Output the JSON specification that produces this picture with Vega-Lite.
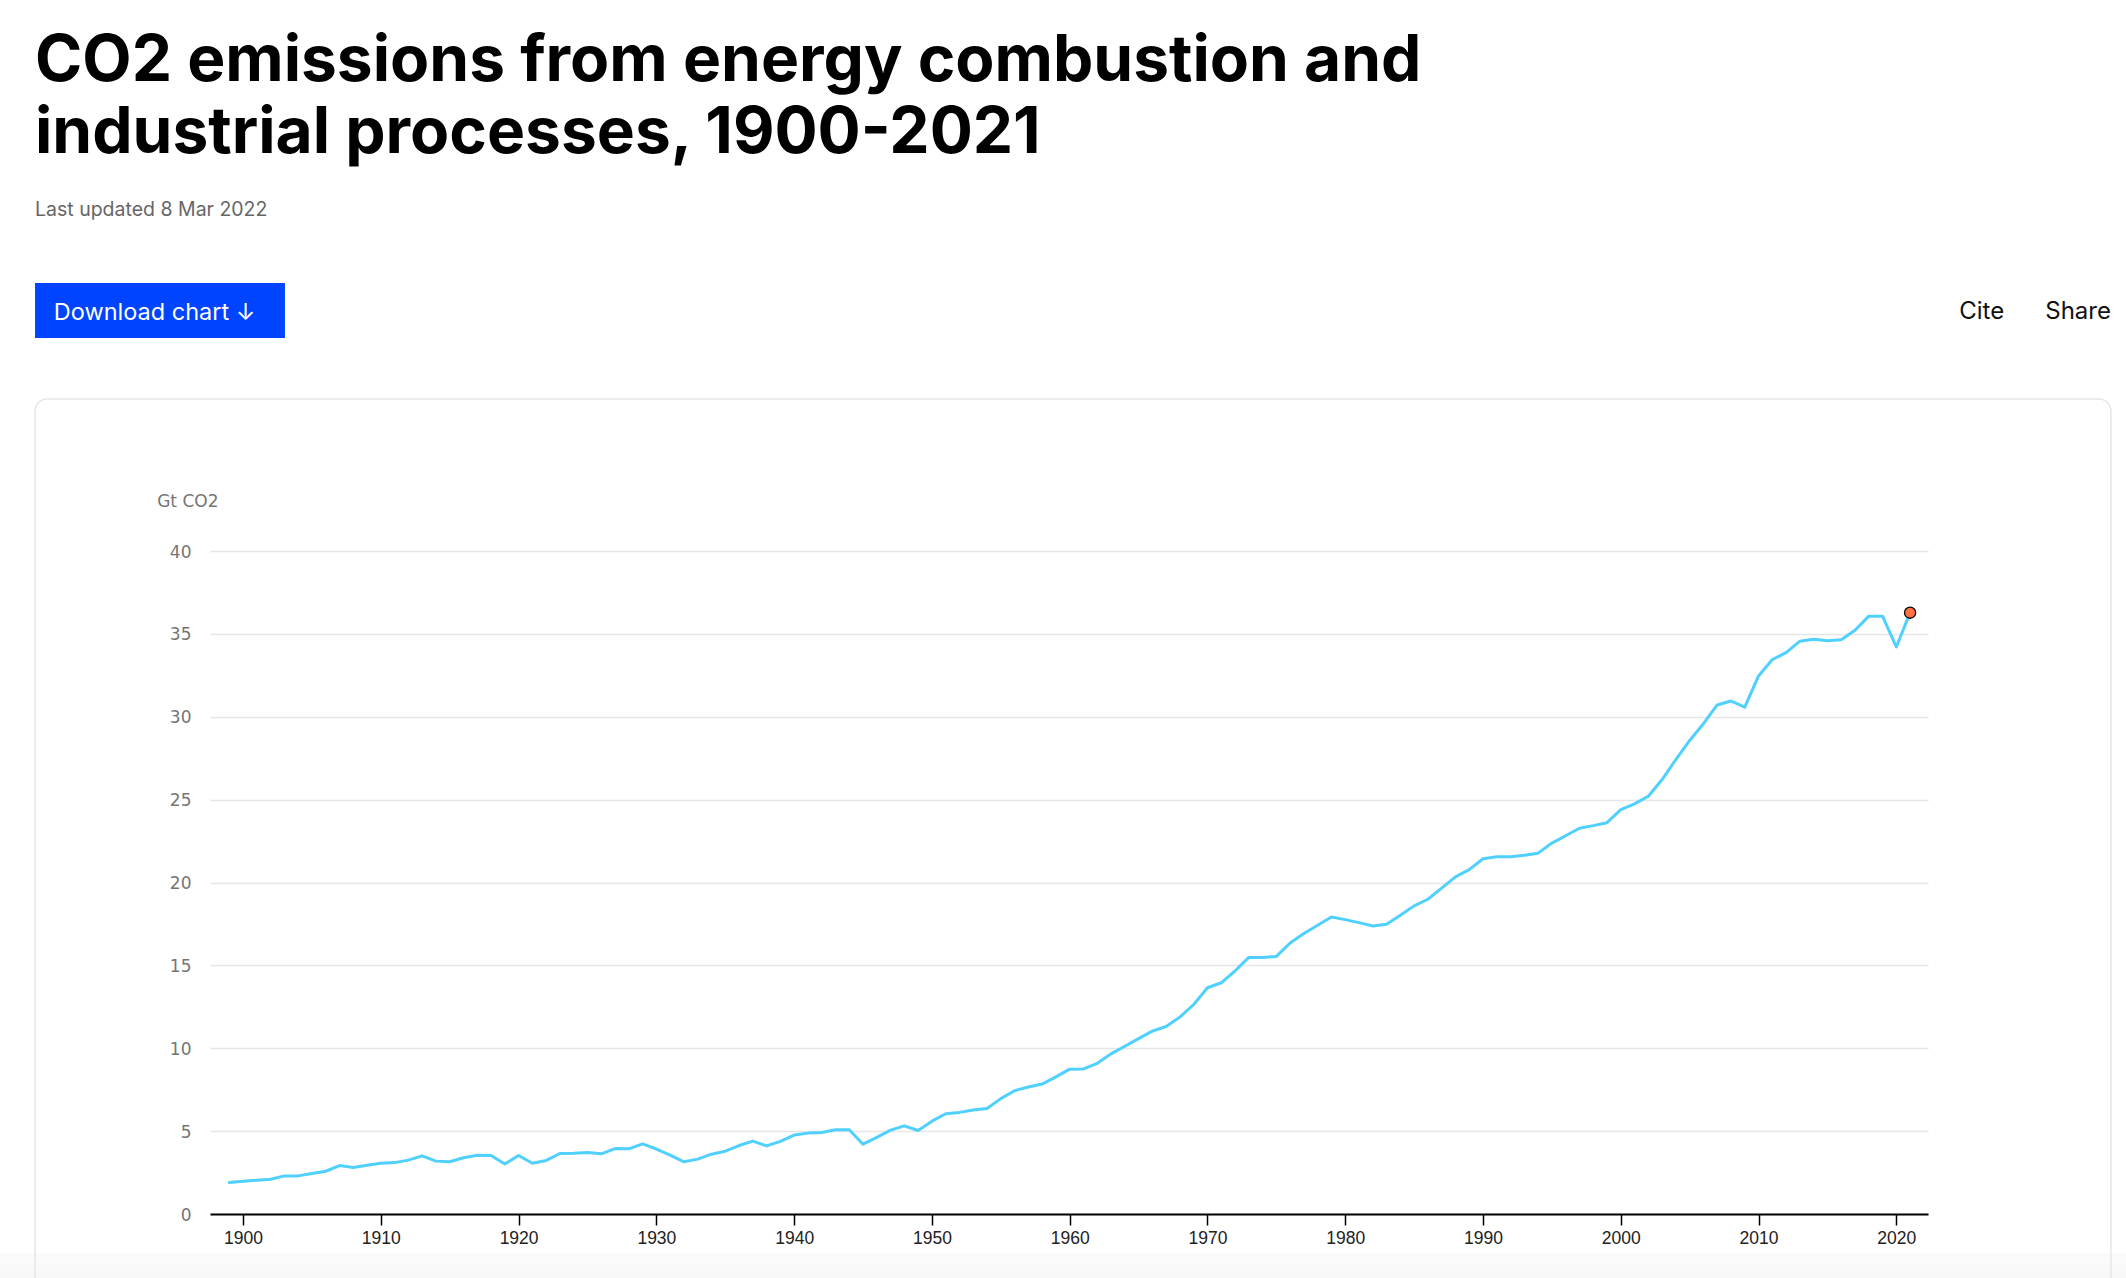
{
  "$schema": "https://vega.github.io/schema/vega-lite/v6.json",
  "width": 1718,
  "height": 663,
  "autosize": {"type": "none"},
  "padding": {"left": 210, "top": 551, "right": 198, "bottom": 64},
  "background": "#ffffff",
  "config": {
    "view": {"stroke": null},
    "axisX": {
      "grid": false, "domain": true, "domainColor": "#000000", "domainWidth": 2,
      "ticks": true, "tickColor": "#000000", "tickWidth": 1.5, "tickSize": 11,
      "labelFont": "Liberation Sans", "labelFontSize": 17.5, "labelColor": "#222222", "labelPadding": 4,
      "labelBaseline": "top", "labelFlush": false
    },
    "axisY": {
      "titleAngle": 0, "titleAlign": "left", "titleBaseline": "alphabetic",
      "titleX": -53.3, "titleY": -45, "titleFont": "DejaVu Sans", "titleFontSize": 17, "titleFontWeight": "normal", "titleColor": "#757575",
      "grid": true, "gridColor": "#e6e6e6", "gridWidth": 1.3, "domain": false, "ticks": false,
      "labelFont": "DejaVu Sans", "labelFontSize": 17, "labelColor": "#757575", "labelPadding": 19,
      "labelBaseline": "middle", "labelOffset": 1, "labelFlush": false
    }
  },
  "title": {
    "text": ["CO2 emissions from energy combustion and", "industrial processes, 1900-2021"],
    "subtitle": "Last updated 8 Mar 2022",
    "anchor": "start",
    "frame": "group",
    "orient": "top",
    "dx": -175,
    "offset": 63,
    "font": "Inter",
    "fontSize": 64,
    "fontWeight": 700,
    "color": "#000000",
    "lineHeight": 72.7,
    "subtitleFont": "Inter",
    "subtitleFontSize": 19.5,
    "subtitleColor": "#666666",
    "subtitlePadding": 35
  },
  "datasets": {
    "emissions": [
      {"year": 1899, "value": 1.90}, {"year": 1900, "value": 1.98}, {"year": 1901, "value": 2.04}, {"year": 1902, "value": 2.10},
      {"year": 1903, "value": 2.30}, {"year": 1904, "value": 2.30}, {"year": 1905, "value": 2.44}, {"year": 1906, "value": 2.58},
      {"year": 1907, "value": 2.92}, {"year": 1908, "value": 2.80}, {"year": 1909, "value": 2.94}, {"year": 1910, "value": 3.06},
      {"year": 1911, "value": 3.10}, {"year": 1912, "value": 3.25}, {"year": 1913, "value": 3.51}, {"year": 1914, "value": 3.19},
      {"year": 1915, "value": 3.15}, {"year": 1916, "value": 3.39}, {"year": 1917, "value": 3.55}, {"year": 1918, "value": 3.53},
      {"year": 1919, "value": 3.02}, {"year": 1920, "value": 3.53}, {"year": 1921, "value": 3.06}, {"year": 1922, "value": 3.23},
      {"year": 1923, "value": 3.65}, {"year": 1924, "value": 3.67}, {"year": 1925, "value": 3.71}, {"year": 1926, "value": 3.63},
      {"year": 1927, "value": 3.95}, {"year": 1928, "value": 3.93}, {"year": 1929, "value": 4.23}, {"year": 1930, "value": 3.92},
      {"year": 1931, "value": 3.55}, {"year": 1932, "value": 3.15}, {"year": 1933, "value": 3.31}, {"year": 1934, "value": 3.61},
      {"year": 1935, "value": 3.79}, {"year": 1936, "value": 4.13}, {"year": 1937, "value": 4.40}, {"year": 1938, "value": 4.11},
      {"year": 1939, "value": 4.38}, {"year": 1940, "value": 4.76}, {"year": 1941, "value": 4.88}, {"year": 1942, "value": 4.92},
      {"year": 1943, "value": 5.08}, {"year": 1944, "value": 5.08}, {"year": 1945, "value": 4.21}, {"year": 1946, "value": 4.62},
      {"year": 1947, "value": 5.06}, {"year": 1948, "value": 5.32}, {"year": 1949, "value": 5.04}, {"year": 1950, "value": 5.60},
      {"year": 1951, "value": 6.05}, {"year": 1952, "value": 6.13}, {"year": 1953, "value": 6.27}, {"year": 1954, "value": 6.37},
      {"year": 1955, "value": 6.96}, {"year": 1956, "value": 7.44}, {"year": 1957, "value": 7.66}, {"year": 1958, "value": 7.84},
      {"year": 1959, "value": 8.27}, {"year": 1960, "value": 8.74}, {"year": 1961, "value": 8.75}, {"year": 1962, "value": 9.09},
      {"year": 1963, "value": 9.66}, {"year": 1964, "value": 10.12}, {"year": 1965, "value": 10.58}, {"year": 1966, "value": 11.03},
      {"year": 1967, "value": 11.31}, {"year": 1968, "value": 11.88}, {"year": 1969, "value": 12.64}, {"year": 1970, "value": 13.65},
      {"year": 1971, "value": 13.95}, {"year": 1972, "value": 14.66}, {"year": 1973, "value": 15.48}, {"year": 1974, "value": 15.48},
      {"year": 1975, "value": 15.54}, {"year": 1976, "value": 16.35}, {"year": 1977, "value": 16.92}, {"year": 1978, "value": 17.42},
      {"year": 1979, "value": 17.92}, {"year": 1980, "value": 17.76}, {"year": 1981, "value": 17.58}, {"year": 1982, "value": 17.38},
      {"year": 1983, "value": 17.48}, {"year": 1984, "value": 18.02}, {"year": 1985, "value": 18.59}, {"year": 1986, "value": 18.99},
      {"year": 1987, "value": 19.66}, {"year": 1988, "value": 20.34}, {"year": 1989, "value": 20.78}, {"year": 1990, "value": 21.43},
      {"year": 1991, "value": 21.56}, {"year": 1992, "value": 21.55}, {"year": 1993, "value": 21.65}, {"year": 1994, "value": 21.77},
      {"year": 1995, "value": 22.38}, {"year": 1996, "value": 22.82}, {"year": 1997, "value": 23.27}, {"year": 1998, "value": 23.43},
      {"year": 1999, "value": 23.61}, {"year": 2000, "value": 24.40}, {"year": 2001, "value": 24.74}, {"year": 2002, "value": 25.20},
      {"year": 2003, "value": 26.21}, {"year": 2004, "value": 27.42}, {"year": 2005, "value": 28.57}, {"year": 2006, "value": 29.58},
      {"year": 2007, "value": 30.71}, {"year": 2008, "value": 30.95}, {"year": 2009, "value": 30.58}, {"year": 2010, "value": 32.46},
      {"year": 2011, "value": 33.45}, {"year": 2012, "value": 33.87}, {"year": 2013, "value": 34.56}, {"year": 2014, "value": 34.68},
      {"year": 2015, "value": 34.58}, {"year": 2016, "value": 34.64}, {"year": 2017, "value": 35.22}, {"year": 2018, "value": 36.07},
      {"year": 2019, "value": 36.07}, {"year": 2020, "value": 34.21}, {"year": 2021, "value": 36.28}
    ],
    "one": [{"k": 1}],
    "button": [{"label": "Download chart  \u2193"}],
    "cite": [{"label": "Cite"}],
    "share": [{"label": "Share"}]
  },
  "layer": [
    {
      "data": {"name": "one"},
      "mark": {"type": "rect", "fill": {"gradient": "linear", "x1": 0, "y1": 0, "x2": 0, "y2": 1, "stops": [{"offset": 0, "color": "#fbfbfb"}, {"offset": 1, "color": "#f3f3f3"}]}, "clip": false},
      "encoding": {
        "x": {"datum": 1882.36, "type": "quantitative", "scale": {"domain": [1897.6, 2022.3], "nice": false, "zero": false}},
        "x2": {"datum": 2036.67},
        "y": {"datum": -2.35, "type": "quantitative", "scale": {"domain": [0, 40], "nice": false, "zero": false}},
        "y2": {"datum": -5.3}
      }
    },
    {
      "data": {"name": "one"},
      "mark": {"type": "rect", "fill": null, "stroke": "#e6e6e6", "strokeWidth": 1.5, "cornerRadius": 12, "clip": false},
      "encoding": {
        "x": {"datum": 1884.9, "type": "quantitative", "scale": {"domain": [1897.6, 2022.3], "nice": false, "zero": false}},
        "x2": {"datum": 2035.58},
        "y": {"datum": 49.17, "type": "quantitative", "scale": {"domain": [0, 40], "nice": false, "zero": false}},
        "y2": {"datum": -6}
      }
    },
    {
      "data": {"name": "one"},
      "mark": {"type": "rect", "fill": "#0044ff", "clip": false},
      "encoding": {
        "x": {"datum": 1884.9, "type": "quantitative", "scale": {"domain": [1897.6, 2022.3], "nice": false, "zero": false}},
        "x2": {"datum": 1903.04},
        "y": {"datum": 56.17, "type": "quantitative", "scale": {"domain": [0, 40], "nice": false, "zero": false}},
        "y2": {"datum": 52.85}
      }
    },
    {
      "data": {"name": "button"},
      "mark": {"type": "text", "font": "Inter", "fontSize": 23.5, "color": "#ffffff", "align": "left", "baseline": "alphabetic", "clip": false},
      "encoding": {
        "text": {"field": "label"},
        "x": {"datum": 1886.26, "type": "quantitative", "scale": {"domain": [1897.6, 2022.3], "nice": false, "zero": false}},
        "y": {"datum": 53.94, "type": "quantitative", "scale": {"domain": [0, 40], "nice": false, "zero": false}}
      }
    },
    {
      "data": {"name": "cite"},
      "mark": {"type": "text", "font": "Inter", "fontSize": 24, "color": "#111111", "align": "left", "baseline": "alphabetic", "clip": false},
      "encoding": {
        "text": {"field": "label"},
        "x": {"datum": 2024.57, "type": "quantitative", "scale": {"domain": [1897.6, 2022.3], "nice": false, "zero": false}},
        "y": {"datum": 53.98, "type": "quantitative", "scale": {"domain": [0, 40], "nice": false, "zero": false}}
      }
    },
    {
      "data": {"name": "share"},
      "mark": {"type": "text", "font": "Inter", "fontSize": 24, "color": "#111111", "align": "right", "baseline": "alphabetic", "clip": false},
      "encoding": {
        "text": {"field": "label"},
        "x": {"datum": 2035.58, "type": "quantitative", "scale": {"domain": [1897.6, 2022.3], "nice": false, "zero": false}},
        "y": {"datum": 53.98, "type": "quantitative", "scale": {"domain": [0, 40], "nice": false, "zero": false}}
      }
    },
    {
      "data": {"name": "emissions"},
      "mark": {"type": "line", "color": "#4fd0ff", "strokeWidth": 3, "strokeJoin": "round", "strokeCap": "round"},
      "encoding": {
        "x": {
          "field": "year", "type": "quantitative", "title": null,
          "scale": {"domain": [1897.6, 2022.3], "nice": false, "zero": false},
          "axis": {"values": [1900, 1910, 1920, 1930, 1940, 1950, 1960, 1970, 1980, 1990, 2000, 2010, 2020], "format": "d", "title": null}
        },
        "y": {
          "field": "value", "type": "quantitative", "title": "Gt CO2",
          "scale": {"domain": [0, 40], "nice": false, "zero": false},
          "axis": {"values": [0, 5, 10, 15, 20, 25, 30, 35, 40], "title": "Gt CO2"}
        }
      }
    },
    {
      "data": {"name": "emissions"},
      "transform": [{"filter": "datum.year === 2021"}],
      "mark": {"type": "point", "filled": true, "fill": "#ff7043", "stroke": "#000000", "strokeWidth": 1.3, "size": 125, "opacity": 1, "shape": "circle"},
      "encoding": {
        "x": {"field": "year", "type": "quantitative", "title": null, "scale": {"domain": [1897.6, 2022.3], "nice": false, "zero": false}},
        "y": {"field": "value", "type": "quantitative", "title": "Gt CO2", "scale": {"domain": [0, 40], "nice": false, "zero": false}}
      }
    }
  ]
}
